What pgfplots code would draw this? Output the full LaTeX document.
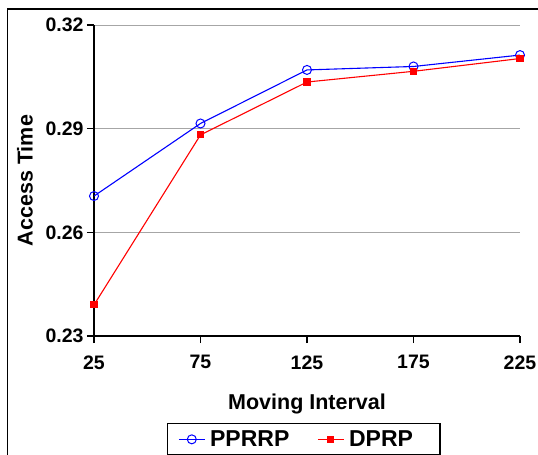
\documentclass[border=0pt]{standalone}
\usepackage{fontspec}
\setmainfont{Liberation Sans}
\usepackage{pgfplots}
\pgfplotsset{compat=1.18}
\begin{document}
\begin{tikzpicture}
\useasboundingbox (0,0) rectangle (538pt,-455pt);
\draw[line width=1.5pt] (7.5pt,-470pt) -- (7.5pt,-9pt) -- (560pt,-9pt);
\begin{axis}[
  at={(94pt,-336pt)}, anchor=south west,
  scale only axis, width=426pt, height=311pt,
  xmin=25, xmax=225, ymin=0.23, ymax=0.32,
  xtick={25,75,125,175,225},
  ytick={0.23,0.26,0.29,0.32},
  axis lines*=left,
  axis line style={black, line width=1.5pt},
  ymajorgrids,
  grid style={gray!70, line width=1pt},
  tick align=outside,
  major tick length=7pt,
  tick style={black, line width=1.2pt},
  /pgf/number format/assume math mode=true,
  yticklabel style={/pgf/number format/.cd, fixed, fixed zerofill, precision=2},
  xticklabel style={yshift=-9pt},
  ticklabel style={font=\bfseries\fontsize{19.5}{22}\selectfont},
  xlabel={Moving Interval},
  ylabel={Access Time},
  label style={font=\bfseries\fontsize{21.5}{24}\selectfont},
  xlabel style={at={(axis description cs:0.5,-0.22)}, anchor=center},
  ylabel style={at={(axis description cs:-0.162,0.5)}, anchor=center},
  legend columns=2,
  legend style={at={(axis description cs:0.171,-0.28)}, anchor=north west,
    draw=black, line width=1.2pt, font=\bfseries\fontsize{23}{26}\selectfont,
    inner xsep=11pt, inner ysep=5pt,
    /tikz/every odd column/.append style={column sep=3pt},
    /tikz/every even column/.append style={column sep=26pt}},
  legend image code/.code={\draw[mark repeat=2,mark phase=2] plot coordinates {(0cm,0cm) (0.45cm,0cm) (0.9cm,0cm)};},
]
\addplot[blue, line width=1.1pt, mark=o, mark size=4.5pt, mark options={fill=white, line width=1pt}]
  coordinates {(25,0.2705) (75,0.2915) (125,0.3070) (175,0.3080) (225,0.3113)};
\addlegendentry{PPRRP}
\addplot[red, line width=1.1pt, mark=square*, mark size=3pt]
  coordinates {(25,0.2390) (75,0.2882) (125,0.3035) (175,0.3066) (225,0.3103)};
\addlegendentry{DPRP\hspace*{14pt}}
\end{axis}
\end{tikzpicture}
\end{document}
